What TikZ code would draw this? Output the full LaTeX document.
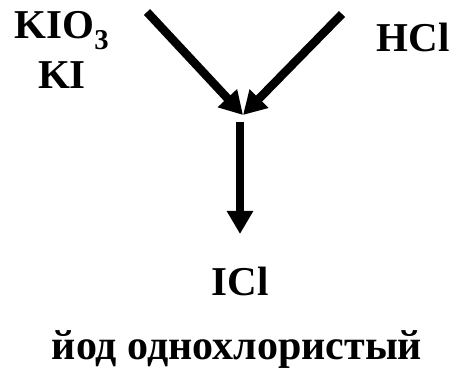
\documentclass[tikz,border=0pt]{standalone}
\usepackage{fontspec}
\setmainfont{Liberation Serif}
\usetikzlibrary{arrows.meta}

\begin{document}
\begin{tikzpicture}[x=1pt,y=-1pt]
\tikzstyle{every node}+=[inner sep=0pt,font=\fontsize{41}{47}\selectfont\bfseries]
\tikzstyle{arr}=[line width=8.5pt,-{Triangle[length=23pt,width=25pt]}]
\useasboundingbox (0,0) rectangle (456,371);
%reagents
\node (kio) [anchor=base] at (62,39) {KIO\textsubscript{3}};
\node (ki) [anchor=base] at (62,89) {KI};
\node (hcl) [anchor=base] at (413,52) {HCl};
%product
\node (icl) [anchor=base] at (240,296) {ICl};
\node (name) [anchor=base,font=\fontsize{42}{48}\selectfont\bfseries] at (237,360) {йод однохлористый};
%arrows
\coordinate (la) at (147,12);
\coordinate (ra) at (342,14);
\coordinate (meet) at (243,115);
\coordinate (top) at (240,122);
\coordinate (down) at (240,234);
\draw [arr] (la) -- (meet);
\draw [arr] (ra) -- (meet);
\draw [arr] (top) -- (down);
\end{tikzpicture}
\end{document}
